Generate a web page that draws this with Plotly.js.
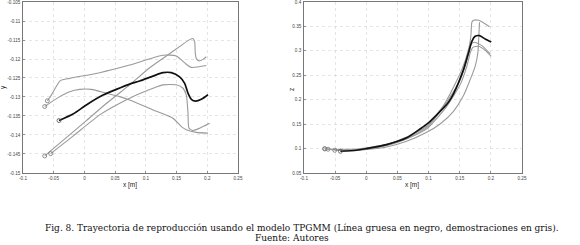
<!DOCTYPE html>
<html>
<head>
<meta charset="utf-8">
<script src="https://cdn.plot.ly/plotly-3.0.1.min.js"></script>
<style>html,body{margin:0;padding:0;background:#fff;}#chart{width:580px;height:245px;}</style>
</head>
<body>
<div id="chart"></div>
<script>
// ---- Left panel (x vs y) ----
const xyBlackX = [-0.0414,-0.0186,0.0031,0.0302,0.0519,0.0736,0.0899,0.1116,0.1279,0.1415,0.1550,0.1632,0.1686,0.1740,0.1811,0.1903,0.2012];
const xyBlackY = [-0.1362,-0.1345,-0.1321,-0.1295,-0.1280,-0.1266,-0.1258,-0.1245,-0.1236,-0.1236,-0.1247,-0.1264,-0.1290,-0.1306,-0.1311,-0.1306,-0.1294];

const xyAX = [-0.0604,-0.0539,-0.0392,-0.0240,0.0248,0.0736,0.1279,0.1496,0.1659,0.1740,0.1985];
const xyAY = [-0.1310,-0.1295,-0.1257,-0.1251,-0.1236,-0.1216,-0.1190,-0.1192,-0.1214,-0.1222,-0.1217];

const xyBX = [-0.0647,-0.0403,-0.0240,-0.0077,0.0112,0.0357,0.0574,0.0736,0.1116,0.1442,0.1578,0.1659,0.1822,0.2012];
const xyBY = [-0.1325,-0.1299,-0.1286,-0.1280,-0.1280,-0.1290,-0.1299,-0.1308,-0.1334,-0.1356,-0.1378,-0.1386,-0.1393,-0.1395];

const xyCX = [-0.0647,-0.0295,0.0031,0.0411,0.0736,0.1062,0.1333,0.1578,0.1713,0.1768,0.1795,0.1805,0.1822,0.1865,0.1930,0.1985];
const xyCY = [-0.1455,-0.1407,-0.1362,-0.1310,-0.1268,-0.1223,-0.1192,-0.1164,-0.1149,-0.1146,-0.1155,-0.1185,-0.1199,-0.1205,-0.1201,-0.1194];

const xyDX = [-0.0550,-0.0186,0.0248,0.0736,0.1116,0.1279,0.1496,0.1605,0.1659,0.1686,0.1702,0.1768,0.1876,0.2039];
const xyDY = [-0.1449,-0.1403,-0.1347,-0.1303,-0.1277,-0.1268,-0.1268,-0.1277,-0.1295,-0.1343,-0.1382,-0.1388,-0.1382,-0.1369];

// ---- Right panel (x vs z) ----
const xzBlackX = [-0.0415,-0.0157,0.0004,0.0326,0.0648,0.0863,0.1002,0.1185,0.1319,0.1400,0.1561,0.1641,0.1695,0.1748,0.1818,0.1909,0.2006];
const xzBlackZ = [0.0945,0.0965,0.1000,0.1081,0.1220,0.1400,0.1530,0.1760,0.1950,0.2120,0.2616,0.2957,0.3195,0.3298,0.3311,0.3243,0.3182];

const xz1X = [-0.0667,-0.0157,0.0326,0.0648,0.0970,0.1185,0.1400,0.1561,0.1668,0.1748,0.1791,0.1807,0.1818];
const xz1Z = [0.0992,0.0965,0.1033,0.1149,0.1333,0.1504,0.1763,0.2084,0.2411,0.2684,0.2957,0.3298,0.3584];

const xz2X = [-0.0613,-0.0157,0.0326,0.0648,0.0970,0.1265,0.1534,0.1641,0.1679,0.1695,0.1722,0.1802,0.1979];
const xz2Z = [0.0986,0.0992,0.1088,0.1238,0.1456,0.1934,0.2616,0.3025,0.3298,0.3584,0.3625,0.3625,0.3495];

const xz3X = [-0.0667,-0.0426,0.0004,0.0326,0.0648,0.0970,0.1265,0.1480,0.1587,0.1641,0.1679,0.1732,0.1856,0.1990];
const xz3Z = [0.0999,0.0965,0.0999,0.1074,0.1211,0.1429,0.1906,0.2343,0.2684,0.2957,0.3127,0.3175,0.3107,0.2936];

const xz4X = [-0.0506,0.0004,0.0326,0.0648,0.0970,0.1292,0.1507,0.1614,0.1668,0.1711,0.1802,0.1909,0.2006];
const xz4Z = [0.0965,0.0992,0.1060,0.1197,0.1402,0.1865,0.2309,0.2684,0.2957,0.3072,0.3093,0.3011,0.2888];

const xTickVals = [-0.1,-0.05,0,0.05,0.1,0.15,0.2,0.25];
const xTickText = ['-0.1','-0.05','0','0.05','0.1','0.15','0.2','0.25'];
const yTickVals = [-0.15,-0.145,-0.14,-0.135,-0.13,-0.125,-0.12,-0.115,-0.11,-0.105];
const yTickText = ['-0.15','-0.145','-0.14','-0.135','-0.13','-0.125','-0.12','-0.115','-0.11','-0.105'];
const zTickVals = [0.05,0.1,0.15,0.2,0.25,0.3,0.35,0.4];
const zTickText = ['0.05','0.1','0.15','0.2','0.25','0.3','0.35','0.4'];

const caption1 = 'Fig. 8. Trayectoria de reproducción usando el modelo TPGMM (Línea gruesa en negro, demostraciones en gris).';
const caption2 = 'Fuente: Autores';

const GRAY = '#9a9a9a';
function grayTrace(x, y, xa, ya) {
  return {x: x, y: y, xaxis: xa, yaxis: ya, type: 'scatter', mode: 'lines',
    line: {color: GRAY, width: 1.1, shape: 'spline', smoothing: 0.6}, hoverinfo: 'skip'};
}
function startMarker(x, y, xa, ya, col) {
  return {x: [x[0]], y: [y[0]], xaxis: xa, yaxis: ya, type: 'scatter', mode: 'markers',
    marker: {symbol: 'circle-open', size: 4, color: col, line: {width: 0.8, color: col}}, hoverinfo: 'skip'};
}
const traces = [];
[[xyAX,xyAY],[xyBX,xyBY],[xyCX,xyCY],[xyDX,xyDY]].forEach(function(p){
  traces.push(grayTrace(p[0], p[1], 'x', 'y'));
  traces.push(startMarker(p[0], p[1], 'x', 'y', '#777'));
});
traces.push({x: xyBlackX, y: xyBlackY, xaxis: 'x', yaxis: 'y', type: 'scatter', mode: 'lines',
  line: {color: '#111', width: 1.7, shape: 'spline', smoothing: 0.6}});
traces.push(startMarker(xyBlackX, xyBlackY, 'x', 'y', '#555'));

[[xz1X,xz1Z],[xz2X,xz2Z],[xz3X,xz3Z],[xz4X,xz4Z]].forEach(function(p){
  traces.push(grayTrace(p[0], p[1], 'x2', 'y2'));
  traces.push(startMarker(p[0], p[1], 'x2', 'y2', '#777'));
});
traces.push({x: xzBlackX, y: xzBlackZ, xaxis: 'x2', yaxis: 'y2', type: 'scatter', mode: 'lines',
  line: {color: '#111', width: 1.7, shape: 'spline', smoothing: 0.6}});
traces.push(startMarker(xzBlackX, xzBlackZ, 'x2', 'y2', '#555'));

const tickFont = {family: 'Liberation Sans, Arial, sans-serif', size: 4.6, color: '#444'};
function axis(extra) {
  return Object.assign({
    showline: true, linecolor: '#555', linewidth: 0.8, mirror: true,
    showgrid: true, gridcolor: '#d4d4d4', gridwidth: 0.6, griddash: 'dot',
    zeroline: false, ticks: 'inside', ticklen: 2, tickcolor: '#555', tickwidth: 0.6,
    tickfont: tickFont, tickmode: 'array', fixedrange: true, ticklabelstandoff: 1,
    ticklabeloverflow: 'allow'
  }, extra);
}
const labFont = {family: 'Liberation Sans, Arial, sans-serif', size: 6.5, color: '#222'};
const capFont = {family: 'DejaVu Serif, serif', size: 9, color: '#111'};

const layout = {
  width: 580, height: 245,
  margin: {l: 0, r: 0, t: 0, b: 0},
  paper_bgcolor: '#fff', plot_bgcolor: '#fff',
  showlegend: false,
  xaxis: axis({domain: [0.0397, 0.4103], range: [-0.1, 0.25], tickvals: xTickVals, ticktext: xTickText, anchor: 'y'}),
  yaxis: axis({domain: [0.2939, 0.9918], range: [-0.15, -0.105], tickvals: yTickVals, ticktext: yTickText, anchor: 'x'}),
  xaxis2: axis({domain: [0.5241, 0.9], range: [-0.1, 0.25], tickvals: xTickVals, ticktext: xTickText, anchor: 'y2'}),
  yaxis2: axis({domain: [0.2939, 0.9918], range: [0.05, 0.4], tickvals: zTickVals, ticktext: zTickText, anchor: 'x2'}),
  annotations: [
    {text: 'x [m]', xref: 'paper', yref: 'paper', x: 130/580, y: 1 - 185/245, xanchor: 'center', yanchor: 'middle', showarrow: false, font: labFont},
    {text: 'x [m]', xref: 'paper', yref: 'paper', x: 412/580, y: 1 - 185/245, xanchor: 'center', yanchor: 'middle', showarrow: false, font: labFont},
    {text: 'y', xref: 'paper', yref: 'paper', x: 3/580, y: 1 - 87/245, xanchor: 'center', yanchor: 'middle', showarrow: false, textangle: -90, font: labFont},
    {text: 'z', xref: 'paper', yref: 'paper', x: 291/580, y: 1 - 89/245, xanchor: 'center', yanchor: 'middle', showarrow: false, textangle: -90, font: labFont},
    {text: caption1, xref: 'paper', yref: 'paper', x: 302/580, y: 1 - 228/245, xanchor: 'center', yanchor: 'middle', showarrow: false, font: capFont},
    {text: caption2, xref: 'paper', yref: 'paper', x: 292/580, y: 1 - 238/245, xanchor: 'center', yanchor: 'middle', showarrow: false, font: capFont}
  ]
};

Plotly.newPlot('chart', traces, layout, {displayModeBar: false, staticPlot: true});
</script>
</body>
</html>
